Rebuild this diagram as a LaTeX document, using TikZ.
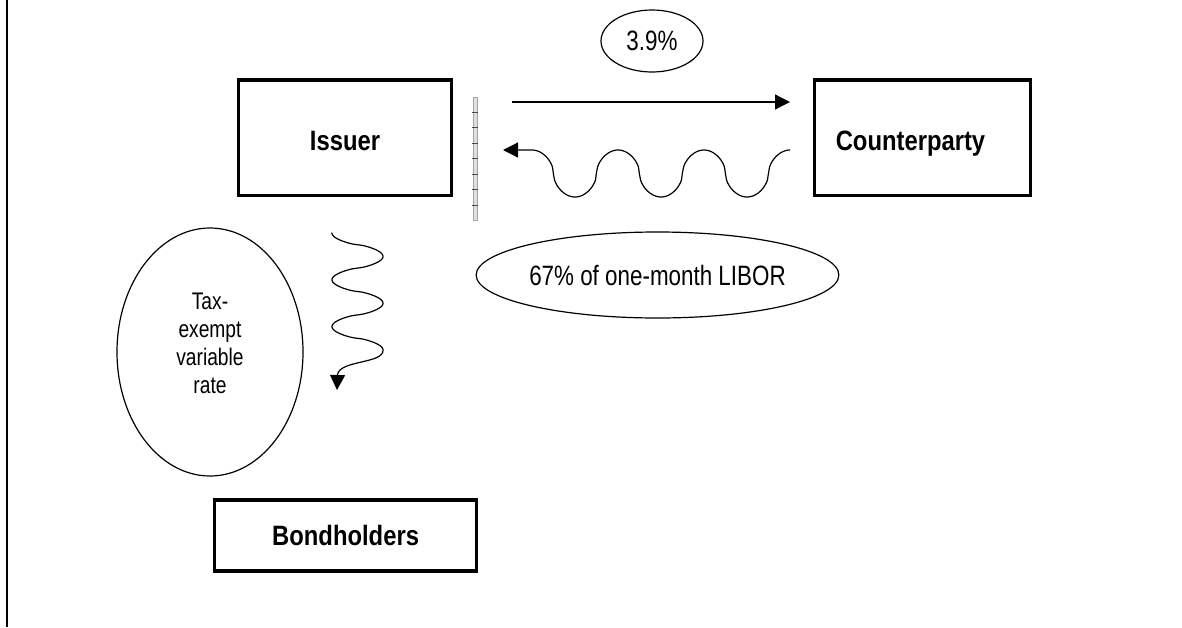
\documentclass[tikz,border=0pt]{standalone}
\usepackage{fontspec}
\setmainfont{Liberation Sans}
\newfontfamily\boxfont[FakeStretch=0.85]{Liberation Sans}
\newfontfamily\tagfont[FakeStretch=0.8]{Liberation Sans}
\usetikzlibrary{arrows.meta, shapes.geometric}

\begin{document}
\begin{tikzpicture}[x=0.5pt, y=-0.5pt,
    partybox/.style={draw, rectangle, line width=1.6pt, inner sep=0pt,
        font=\boxfont\bfseries\fontsize{14}{17}\selectfont},
    ratetag/.style={draw, ellipse, line width=0.6pt, inner sep=0pt,
        font=\tagfont\fontsize{14}{17}\selectfont},
    flow/.style={line width=0.6pt, -{Triangle[length=7.5pt,width=7.5pt]}}]
    \useasboundingbox (0,0) rectangle (1182,627);

    % Page rule on the left
    \draw[line width=1pt] (6.7,0) -- (6.7,627);

    % Parties
    \node[partybox, minimum width=106.5pt, minimum height=57.75pt, text height=13pt, text depth=0pt]
        (issuer) at (345,137.75) {Issuer};
    \node[partybox, minimum width=108pt, minimum height=57.75pt, text height=13pt, text depth=0pt]
        (cpty) at (922.5,137.75) {Counterparty\hspace*{12pt}};
    \node[partybox, minimum width=131pt, minimum height=35.5pt] (bond) at (345.6,535.5) {Bondholders};

    % Rates
    \node[ratetag, minimum width=51pt, minimum height=31pt] (fixed) at (652,41) {3.9\%};
    \node[ratetag, minimum width=180.5pt, minimum height=43pt] (libor) at (657.5,275) {67\% of one-month LIBOR};
    \node[ratetag, minimum width=93pt, minimum height=124pt] (taxex) at (210,352) {};
    \node[align=center, inner sep=0pt, font=\tagfont\fontsize{12}{14}\selectfont]
        (taxtext) at ([yshift=4.5pt]taxex.center) {Tax-\\exempt\\variable\\rate};

    % Barrier next to the issuer
    \draw[gray!70, fill=gray!25, line width=0.3pt] (473,97) rectangle (477,220);
    \foreach \y in {112,127.5,...,210}
        \draw[gray!60!black, line width=0.3pt] (472,\y) -- (478,\y);

    % Fixed leg
    \coordinate (fixout) at (512,102);
    \coordinate (fixin) at (790,102);
    \draw[flow] (fixout) -- (fixin);

    % Floating leg
    \coordinate (floatout) at (790,150);
    \coordinate (floatin) at (503,150);
    \draw[flow] (floatout) -- plot[domain=0:6, samples=241]
        ({790-43*\x}, {173.5-23.5*sign(cos(180*\x))*sqrt(abs(cos(180*\x)))}) -- (floatin);

    % Variable rate to bondholders
    \coordinate (varout) at (332,233);
    \coordinate (varin) at (337,390);
    \draw[flow] (varout) -- plot[domain=0:5, samples=201]
        ({357.5-25.5*sign(cos(180*\x))*(abs(cos(180*\x))+0.0001)^0.7}, {233+23.4*\x})
        .. controls (384,364) and (338,360) .. (varin);
\end{tikzpicture}
\end{document}
